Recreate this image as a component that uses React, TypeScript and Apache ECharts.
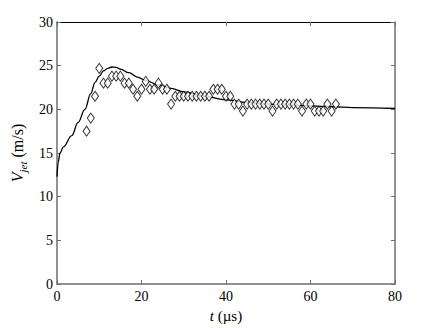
import React, { useEffect, useRef } from "react";
import * as echarts from "echarts";

const xTicks = [0, 20, 40, 60, 80];
const yTicks = [0, 5, 10, 15, 20, 25, 30];

// measured diamonds
const expT = [7, 8, 9, 10, 11, 12, 13, 14, 15, 16, 17, 18, 19, 20, 21, 22, 23, 24, 25, 26, 27, 28, 29, 30, 31, 32, 33, 34, 35, 36, 37, 38, 39, 40, 41, 42, 43, 44, 45, 46, 47, 48, 49, 50, 51, 52, 53, 54, 55, 56, 57, 58, 59, 60, 61, 62, 63, 64, 65, 66];
const expV = [17.5, 19.0, 21.5, 24.7, 23.0, 23.0, 23.8, 23.8, 23.8, 23.0, 23.0, 22.3, 21.5, 22.3, 23.2, 22.3, 22.3, 23.0, 22.3, 22.3, 20.6, 21.5, 21.5, 21.5, 21.5, 21.5, 21.5, 21.5, 21.5, 21.5, 22.3, 22.3, 22.3, 21.5, 21.5, 20.6, 20.6, 19.8, 20.6, 20.6, 20.6, 20.6, 20.6, 20.6, 19.8, 20.6, 20.6, 20.6, 20.6, 20.6, 20.6, 19.8, 20.6, 20.6, 19.8, 19.8, 19.8, 20.6, 19.8, 20.6];

// model curve
const modelT = [0, 0.3, 0.7, 1.5, 3.5, 5, 6.6, 8, 9, 10, 11, 12, 13, 14, 15, 17, 19, 21, 24, 27, 30, 35, 40, 45, 50, 55, 60, 65, 70, 80];
const modelV = [12.3, 14.0, 15.0, 15.7, 17.0, 18.5, 20.0, 21.8, 23.1, 23.8, 24.4, 24.7, 24.85, 24.8, 24.6, 24.2, 23.7, 23.3, 22.8, 22.4, 22.0, 21.5, 21.1, 20.8, 20.6, 20.5, 20.4, 20.3, 20.2, 20.1];

const FONT = "serif";

export default function App() {
  const ref = useRef<HTMLDivElement>(null);
  useEffect(() => {
    if (!ref.current) return;
    const chart = echarts.init(ref.current, null, { renderer: "svg" });
    const gray = "#6e6e6e";
    const common = {
      min: 0,
      splitLine: { show: false },
      axisTick: { show: true, inside: true, length: 4, lineStyle: { color: gray } },
    };
    chart.setOption({
      animation: false,
      backgroundColor: "#ffffff",
      textStyle: { fontFamily: FONT },
      grid: { left: 57, right: 41, top: 22, bottom: 38 },
      xAxis: [
        {
          ...common,
          type: "value",
          max: 80,
          interval: 20,
          position: "bottom",
          axisLine: { show: true, onZero: false, lineStyle: { color: gray, width: 1.5 } },
          axisLabel: { color: "#000", fontFamily: FONT, fontSize: 14, margin: 5 },
          name: "{i|t} (µs)",
          nameLocation: "middle",
          nameGap: 23,
          nameTextStyle: {
            color: "#000",
            fontFamily: FONT,
            fontSize: 15,
            rich: { i: { fontStyle: "italic", fontFamily: FONT, fontSize: 15, color: "#000" } },
          },
        },
        {
          ...common,
          type: "value",
          max: 80,
          interval: 20,
          position: "top",
          axisLine: { show: true, onZero: false, lineStyle: { color: "#000", width: 1 } },
          axisLabel: { show: false },
        },
      ],
      yAxis: [
        {
          ...common,
          type: "value",
          max: 30,
          interval: 5,
          position: "left",
          axisLine: { show: true, onZero: false, lineStyle: { color: gray, width: 1.5 } },
          axisLabel: { color: "#000", fontFamily: FONT, fontSize: 14, margin: 4 },
          name: "{i|V}{s|jet} (m/s)",
          nameLocation: "middle",
          nameGap: 20,
          nameRotate: 90,
          nameTextStyle: {
            color: "#000",
            fontFamily: FONT,
            fontSize: 16,
            rich: {
              i: { fontStyle: "italic", fontFamily: FONT, fontSize: 16, color: "#000" },
              s: { fontStyle: "italic", fontFamily: FONT, fontSize: 11, color: "#000", padding: [10, 0, 0, 0] },
            },
          },
        },
        {
          ...common,
          type: "value",
          max: 30,
          interval: 5,
          position: "right",
          axisLine: { show: true, onZero: false, lineStyle: { color: gray, width: 1.5 } },
          axisLabel: { show: false },
        },
      ],
      series: [
        {
          type: "line",
          data: modelT.map((t, i) => [t, modelV[i]]),
          showSymbol: false,
          smooth: 0.4,
          smoothMonotone: "x",
          lineStyle: { color: "#000", width: 1.3 },
          z: 2,
        },
        {
          type: "scatter",
          data: expT.map((t, i) => [t, expV[i]]),
          symbol: "diamond",
          symbolSize: [7, 10],
          itemStyle: { color: "#fff", borderColor: "#000", borderWidth: 1 },
          z: 3,
        },
      ],
    });
    return () => chart.dispose();
  }, []);
  return <div ref={ref} style={{ width: 436, height: 328, position: "absolute", left: 0, top: 0 }} />;
}
